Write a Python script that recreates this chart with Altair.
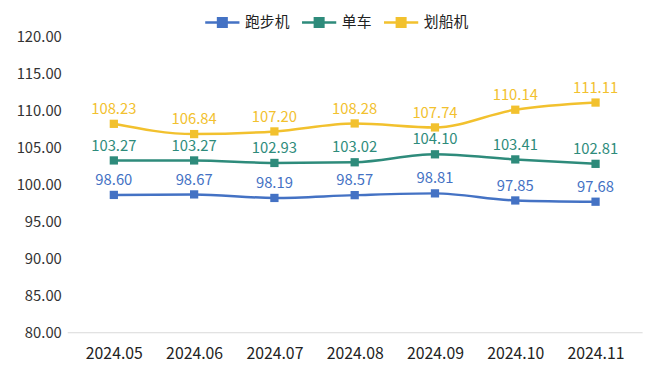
import altair as alt
import pandas as pd

months = ["2024.05", "2024.06", "2024.07", "2024.08", "2024.09", "2024.10", "2024.11"]
series_names = ["跑步机", "单车", "划船机"]
treadmill = [98.60, 98.67, 98.19, 98.57, 98.81, 97.85, 97.68]
bike = [103.27, 103.27, 102.93, 103.02, 104.10, 103.41, 102.81]
rower = [108.23, 106.84, 107.20, 108.28, 107.74, 110.14, 111.11]
colors = ["#4472C4", "#2E8B7B", "#F2C12E"]

rows = []
for name, vals in zip(series_names, [treadmill, bike, rower]):
    for m, v in zip(months, vals):
        rows.append({"month": m, "series": name, "value": v})
df = pd.DataFrame(rows)

font = "Noto Sans CJK SC"
legend_symbol = "M-1,0H-0.25M0.25,0H1M-0.25,-0.25H0.25V0.25H-0.25Z"

x = alt.X("month:N", sort=months, title=None,
          scale=alt.Scale(type="point", padding=0.58),
          axis=alt.Axis(labelAngle=0, ticks=False, domain=True, domainColor="#d9d9d9",
                        labelFontSize=16, labelColor="#222222", labelPadding=14, grid=False,
                        labelFont=font, labelFontWeight="normal"))
y = alt.Y("value:Q", title=None,
          scale=alt.Scale(domain=[80, 120], nice=False, zero=False),
          axis=alt.Axis(values=[80, 85, 90, 95, 100, 105, 110, 115, 120], format=".2f",
                        ticks=False, domain=False, grid=False, labelFontSize=15,
                        labelColor="#333333", labelPadding=6, labelFont=font))
color = alt.Color("series:N", sort=series_names,
                  scale=alt.Scale(domain=series_names, range=colors),
                  legend=alt.Legend(title=None, orient="none", direction="horizontal",
                                    legendX=138, legendY=-34,
                                    symbolType=legend_symbol, symbolSize=1200,
                                    symbolStrokeWidth=2.5, labelFontSize=15,
                                    labelFont=font, labelColor="#222222",
                                    columnPadding=6, labelOffset=4))

base = alt.Chart(df).encode(x=x, y=y, color=color)
lines = base.mark_line(interpolate="monotone", strokeWidth=2.5)
points = base.mark_point(shape="square", filled=True, size=70, opacity=1)
labels = base.mark_text(dy=-15, fontSize=15, font=font).encode(
    text=alt.Text("value:Q", format=".2f"))

chart = alt.layer(lines, points, labels).properties(
    width=582, height=299,
    autosize=alt.AutoSizeParams(type="none"),
    padding={"left": 60, "top": 27, "right": 10, "bottom": 40},
).configure(background="white").configure_view(strokeWidth=0)

chart.save("out.html", embed_options={"renderer": "svg", "actions": False})
